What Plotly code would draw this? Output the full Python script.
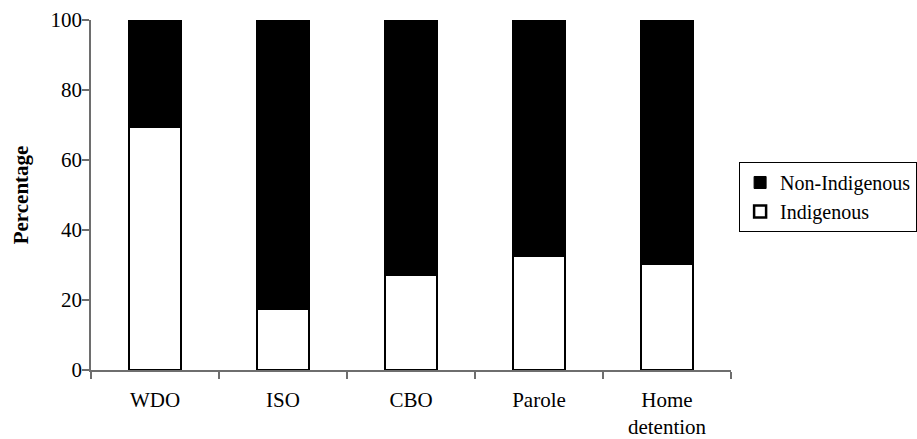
import plotly.graph_objects as go

# Sentence type shares by Indigenous status (%)
categories = ["WDO", "ISO", "CBO", "Parole", "Home<br>detention"]
indigenous = [69.5, 17.5, 27.3, 32.7, 30.5]
non_indigenous = [round(100 - v, 1) for v in indigenous]
y_ticks = [0, 20, 40, 60, 80, 100]

FONT = "Liberation Serif"
SIZE = 21

fig = go.Figure()
fig.add_trace(go.Bar(
    x=categories, y=indigenous, name="Indigenous",
    marker=dict(color="white", line=dict(color="black", width=2.5)),
    width=0.41,
))
fig.add_trace(go.Bar(
    x=categories, y=non_indigenous, name="Non-Indigenous",
    marker=dict(color="black", line=dict(color="black", width=1)),
    width=0.41,
))

fig.update_layout(
    barmode="stack",
    width=917, height=439,
    margin=dict(l=91, r=186, t=20, b=69, autoexpand=False),
    paper_bgcolor="white", plot_bgcolor="white",
    font=dict(family=FONT, size=SIZE, color="black"),
    showlegend=True,
    legend=dict(
        xref="container", yref="container",
        x=0.806, y=0.631, xanchor="left", yanchor="top",
        traceorder="reversed",
        bordercolor="black", borderwidth=1,
        font=dict(family=FONT, size=20, color="black"),
        itemwidth=30, tracegroupgap=0,
    ),
    xaxis=dict(
        type="category",
        showline=True, linecolor="#6e6e6e", linewidth=1.5,
        ticks="outside", tickson="boundaries", ticklen=7,
        tickcolor="#6e6e6e", tickwidth=1.5,
        showgrid=False, zeroline=False,
        ticklabelstandoff=10,
        tickfont=dict(family=FONT, size=SIZE, color="black"),
    ),
    yaxis=dict(
        range=[0, 100], tickvals=y_ticks,
        showline=True, linecolor="#6e6e6e", linewidth=1.5,
        ticks="outside", ticklen=7, tickcolor="#6e6e6e", tickwidth=1.5,
        showgrid=False, zeroline=False,
        ticklabelstandoff=-4,
        tickfont=dict(family=FONT, size=SIZE, color="black"),
        title=dict(text="<b>Percentage</b>", standoff=16,
                   font=dict(family=FONT, size=SIZE, color="black")),
    ),
)

fig.write_html("out.html")
